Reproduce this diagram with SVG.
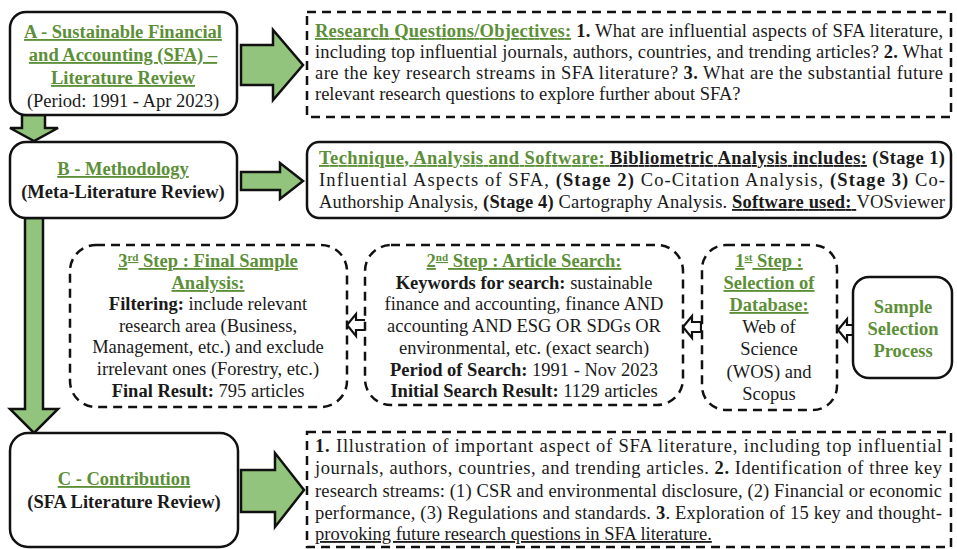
<svg xmlns="http://www.w3.org/2000/svg" width="957" height="549" viewBox="0 0 957 549">
<style>
text { font-family: "Liberation Serif", "Times New Roman", serif; font-size: 18.5px; fill: #1a1a1a; }
.g { fill: #5c8f38; font-weight: bold; }
.u { text-decoration: underline; }
.b { font-weight: bold; }
.c { text-anchor: middle; }
.box { fill: #fff; stroke: #111; stroke-width: 2.5; }
.dash { fill: #fff; stroke: #111; stroke-width: 2.5; stroke-dasharray: 9 6; }
.garrow { fill: #93c47d; stroke: #111; stroke-width: 2.5; stroke-linejoin: miter; }
.harrow { fill: #fff; stroke: #111; stroke-width: 2.2; stroke-linejoin: miter; }
.sup { font-size: 11px; }
</style>
<rect x="0" y="0" width="957" height="549" fill="#fff"/>

<g id="connectors">
  <polygon class="garrow" points="241,45 273,45 273,30 303,65 273,100 273,85 241,85"/>
  <polygon class="garrow" points="22,115 45,115 45,128 58,128 34,141 10,128 22,128"/>
  <polygon class="garrow" points="241,172 280,172 280,163 303,181 280,199 280,190 241,190"/>
  <polygon class="garrow" points="25,218 43,218 43,409 58,409 34,433 10,409 25,409"/>
  <polygon class="garrow" points="241,470 275,470 275,453 304,490 275,527 275,512 241,512"/>
  <polygon class="harrow" points="838,330 847,319 847,325 853,325 853,335 847,335 847,341"/>
  <polygon class="harrow" points="683,327 692,316 692,322 701,322 701,332 692,332 692,338"/>
  <polygon class="harrow" points="347,325 356,314 356,320 366,320 366,330 356,330 356,336"/>
</g>

<g id="nodeA">
  <rect class="box" x="10" y="12" width="227" height="103" rx="16"/>
  <text class="c" x="123" y="38"><tspan class="g u">A - Sustainable Financial</tspan></text>
  <text class="c" x="123" y="61"><tspan class="g u">and Accounting (SFA) –</tspan></text>
  <text class="c" x="123" y="84"><tspan class="g u">Literature Review</tspan></text>
  <text class="c" x="123" y="107">(Period: 1991 - Apr 2023)</text>
</g>

<g id="nodeRQ">
  <rect class="dash" x="307" y="12" width="644" height="105"/>
  <text x="315" y="37" textLength="628" lengthAdjust="spacing"><tspan class="g u">Research Questions/Objectives:</tspan><tspan class="b"> 1.</tspan> What are influential aspects of SFA literature,</text>
  <text x="315" y="58" textLength="628" lengthAdjust="spacing">including top influential journals, authors, countries, and trending articles? <tspan class="b">2.</tspan> What</text>
  <text x="315" y="79" textLength="628" lengthAdjust="spacing">are the key research streams in SFA literature? <tspan class="b">3.</tspan> What are the substantial future</text>
  <text x="315" y="100">relevant research questions to explore further about SFA?</text>
</g>

<g id="nodeB">
  <rect class="box" x="10" y="142" width="227" height="76" rx="16"/>
  <text class="c" x="123" y="175"><tspan class="g u">B - Methodology</tspan></text>
  <text class="c b" x="123" y="198">(Meta-Literature Review)</text>
</g>

<g id="nodeTech">
  <rect class="box" x="307" y="142" width="644" height="76" rx="12"/>
  <text x="319" y="164" textLength="626" lengthAdjust="spacing"><tspan class="g u">Technique, Analysis and Software: </tspan><tspan class="b u">Bibliometric Analysis includes:</tspan><tspan class="b"> (Stage 1)</tspan></text>
  <text x="319" y="186" textLength="626" lengthAdjust="spacing">Influential Aspects of SFA, <tspan class="b">(Stage 2)</tspan> Co-Citation Analysis, <tspan class="b">(Stage 3)</tspan> Co-</text>
  <text x="319" y="208" textLength="626" lengthAdjust="spacing">Authorship Analysis, <tspan class="b">(Stage 4)</tspan> Cartography Analysis. <tspan class="b u">Software used: </tspan>VOSviewer</text>
</g>

<g id="nodeStep3">
  <rect class="dash" x="70" y="245" width="277" height="162" rx="26"/>
  <text class="c" x="208" y="267"><tspan class="g u">3<tspan class="sup" baseline-shift="super">rd</tspan> Step : Final Sample</tspan></text>
  <text class="c" x="208" y="289"><tspan class="g u">Analysis:</tspan></text>
  <text class="c" x="208" y="310"><tspan class="b">Filtering:</tspan> include relevant</text>
  <text class="c" x="208" y="332">research area (Business,</text>
  <text class="c" x="208" y="353">Management, etc.) and exclude</text>
  <text class="c" x="208" y="375">irrelevant ones (Forestry, etc.)</text>
  <text class="c" x="208" y="397"><tspan class="b">Final Result:</tspan> 795 articles</text>
</g>

<g id="nodeStep2">
  <rect class="dash" x="365" y="245" width="318" height="160" rx="26"/>
  <text class="c" x="524" y="267"><tspan class="g u">2<tspan class="sup" baseline-shift="super">nd</tspan> Step : Article Search:</tspan></text>
  <text class="c" x="524" y="289"><tspan class="b">Keywords for search:</tspan> sustainable</text>
  <text class="c" x="524" y="310">finance and accounting, finance AND</text>
  <text class="c" x="524" y="332">accounting AND ESG OR SDGs OR</text>
  <text class="c" x="524" y="354">environmental, etc. (exact search)</text>
  <text class="c" x="524" y="376"><tspan class="b">Period of Search:</tspan> 1991 - Nov 2023</text>
  <text class="c" x="524" y="397"><tspan class="b">Initial Search Result:</tspan> 1129 articles</text>
</g>

<g id="nodeStep1">
  <rect class="dash" x="702" y="245" width="135" height="165" rx="24"/>
  <text class="c" x="769" y="267"><tspan class="g u">1<tspan class="sup" baseline-shift="super">st</tspan> Step :</tspan></text>
  <text class="c" x="769" y="289"><tspan class="g u">Selection of</tspan></text>
  <text class="c" x="769" y="311"><tspan class="g u">Database:</tspan></text>
  <text class="c" x="769" y="333">Web of</text>
  <text class="c" x="769" y="355">Science</text>
  <text class="c" x="769" y="378">(WOS)  and</text>
  <text class="c" x="769" y="400">Scopus</text>
</g>

<g id="nodeSample">
  <rect class="box" x="853" y="277" width="99" height="101" rx="16"/>
  <text class="c g" x="903" y="313">Sample</text>
  <text class="c g" x="903" y="335">Selection</text>
  <text class="c g" x="903" y="357">Process</text>
</g>

<g id="nodeC">
  <rect class="box" x="10" y="433" width="228" height="114" rx="18"/>
  <text class="c" x="124" y="485"><tspan class="g u">C - Contribution</tspan></text>
  <text class="c b" x="124" y="508">(SFA Literature Review)</text>
</g>

<g id="nodeContrib">
  <rect class="dash" x="307" y="432" width="644" height="115"/>
  <text x="315" y="452" textLength="627" lengthAdjust="spacing"><tspan class="b">1.</tspan> Illustration of important aspect of SFA literature, including top influential</text>
  <text x="315" y="474" textLength="627" lengthAdjust="spacing">journals, authors, countries, and trending articles. <tspan class="b">2.</tspan> Identification of three key</text>
  <text x="315" y="497" textLength="627" lengthAdjust="spacing">research streams: (1) CSR and environmental disclosure, (2) Financial or economic</text>
  <text x="315" y="519" textLength="627" lengthAdjust="spacing">performance, (3) Regulations and standards. <tspan class="b">3</tspan>. Exploration of 15 key and thought-</text>
  <text x="315" y="540"><tspan class="u">provoking future research questions in SFA literature.</tspan></text>
</g>
</svg>
